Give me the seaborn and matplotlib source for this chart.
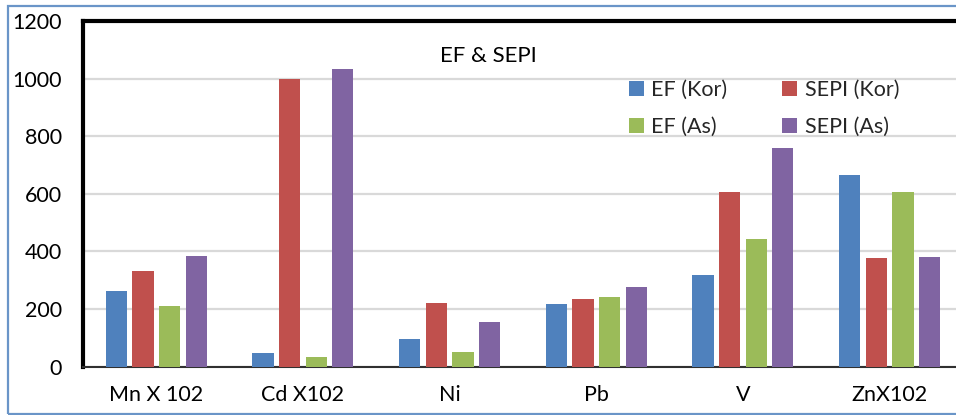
import matplotlib
matplotlib.use("Agg")
import matplotlib.pyplot as plt
from matplotlib.patches import Rectangle
import pandas as pd
import seaborn as sns

# Elements (categories) and the four index series
elements = ["Mn X 102", "Cd X102", "Ni", "Pb", "V", "ZnX102"]
series_names = ["EF (Kor)", "SEPI (Kor)", "EF (As)", "SEPI (As)"]
ef_kor = [264, 48, 95, 216, 319, 667]
sepi_kor = [332, 1000, 220, 234, 608, 378]
ef_as = [210, 34, 51, 242, 443, 606]
sepi_as = [384, 1032, 154, 277, 759, 380]
y_ticks = [0, 200, 400, 600, 800, 1000, 1200]
colors = ["#4f81bd", "#c0504d", "#9bbb59", "#8064a2"]

df = pd.DataFrame({
    "element": elements * 4,
    "series": [s for s in series_names for _ in elements],
    "value": ef_kor + sepi_kor + ef_as + sepi_as,
})

sns.set_theme(style="white")
plt.rcParams["font.family"] = ["Lato", "DejaVu Sans"]

fig = plt.figure(figsize=(9.56, 4.15), dpi=100)
ax = fig.add_axes([0.0868, 0.1164, 0.9205, 0.833])

sns.barplot(data=df, x="element", y="value", hue="series",
            order=elements, hue_order=series_names, palette=colors,
            width=0.727, gap=0.21, saturation=1, errorbar=None,
            edgecolor="none", ax=ax, zorder=3)

ax.set_xlim(-0.5, 5.5)
ax.set_ylim(0, 1200)
ax.set_yticks(y_ticks)
ax.set_yticklabels([str(t) for t in y_ticks], fontsize=15.5)
ax.tick_params(axis="y", length=0, pad=15)
ax.tick_params(axis="x", length=0, pad=13, labelsize=15.5)
ax.set_xlabel("")
ax.set_ylabel("")
for lbl in ax.get_xticklabels() + ax.get_yticklabels():
    lbl.set_color("black")

ax.yaxis.grid(True, color="#d9d9d9", linewidth=1.6, zorder=0)
ax.set_axisbelow(True)

for side in ["left", "top"]:
    ax.spines[side].set_color("black")
    ax.spines[side].set_linewidth(3.0)
ax.spines["bottom"].set_color("#303030")
ax.spines["bottom"].set_linewidth(1.5)
ax.spines["right"].set_visible(False)

ax.text(0.461, 0.9, "EF & SEPI", transform=ax.transAxes, ha="center",
        va="center", fontsize=16, color="black")

# two-column legend filled row by row: Kor series on top, As series below
handles, labels = ax.get_legend_handles_labels()
order = [0, 2, 1, 3]
ax.legend([handles[i] for i in order], [labels[i] for i in order],
          loc="upper left", bbox_to_anchor=(0.62, 0.83), ncol=2,
          frameon=False, fontsize=15.5, handlelength=0.7, handleheight=0.7,
          handletextpad=0.35, columnspacing=2.55, labelspacing=0.8,
          borderaxespad=0, borderpad=0)

# outer chart border
fig.patches.append(Rectangle((8 / 956, 1 / 415), 1.0, 408 / 415,
                             transform=fig.transFigure, fill=False,
                             edgecolor="#6a95c8", linewidth=1.6))

fig.savefig("out.png", dpi=100)
